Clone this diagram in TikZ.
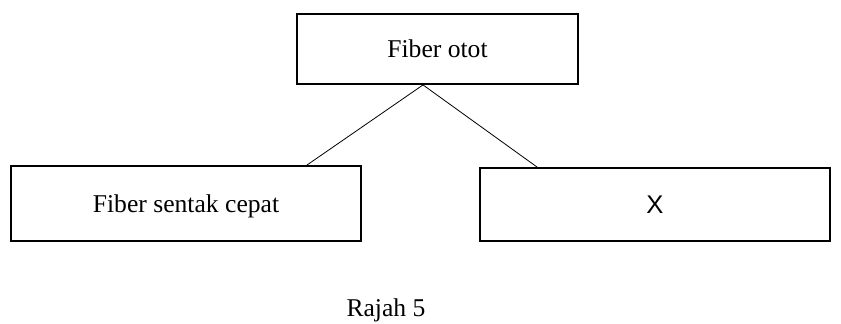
\documentclass[tikz,border=0pt]{standalone}
\usepackage{fontspec}
\setmainfont{Liberation Serif}
\newfontfamily\sansx{Liberation Sans}
\begin{document}
\begin{tikzpicture}[x=0.75pt,y=-0.75pt,
  fiberbox/.style={draw,rectangle,line width=1.4pt,inner sep=0pt,text depth=0pt,
    font=\fontsize{19.2}{23}\selectfont}]
\useasboundingbox (0,0) rectangle (841,324);
\node[fiberbox,minimum width=281*0.75pt,minimum height=70*0.75pt] (otot) at (437.5,49) {Fiber otot};
\node[fiberbox,minimum width=350*0.75pt,minimum height=75*0.75pt] (cepat) at (186,203.5) {Fiber sentak cepat};
\node[fiberbox,minimum width=350*0.75pt,minimum height=73*0.75pt,font=\fontsize{19.2}{23}\sansx] (x) at (655,204.5) {X};
\node[font=\fontsize{19.2}{23}\selectfont] (rajah) at (386,310) {Rajah 5};

\draw[line width=0.6pt] ([xshift=-14.5*0.75pt]otot.south) -- ([xshift=-55*0.75pt]cepat.north east);
\draw[line width=0.6pt] ([xshift=-14.5*0.75pt]otot.south) -- ([xshift=58*0.75pt]x.north west);
\end{tikzpicture}
\end{document}
